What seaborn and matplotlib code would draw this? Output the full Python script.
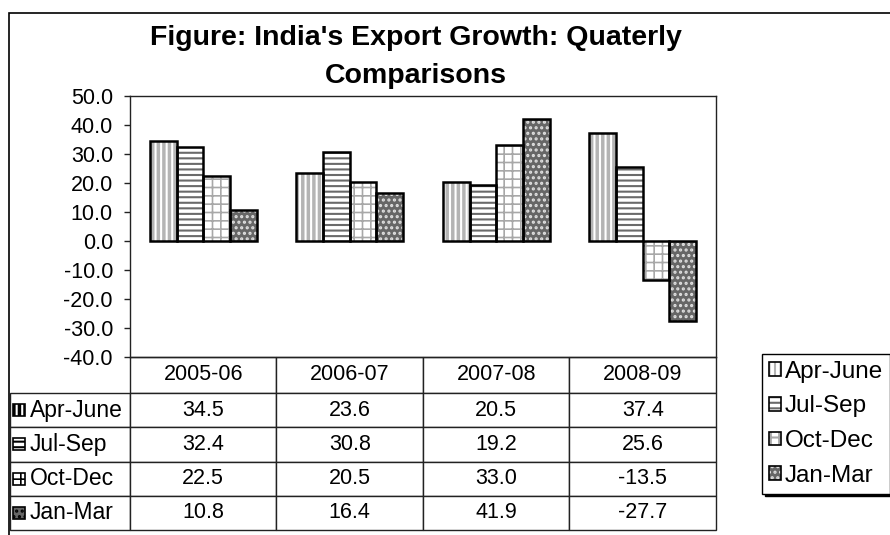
import numpy as np
import pandas as pd
import matplotlib
matplotlib.use('Agg')
import matplotlib.pyplot as plt
import matplotlib.patches as mpatches
from matplotlib.transforms import IdentityTransform
import seaborn as sns

# data
years = ['2005-06', '2006-07', '2007-08', '2008-09']
quarters = ['Apr-June', 'Jul-Sep', 'Oct-Dec', 'Jan-Mar']
apr_june = [34.5, 23.6, 20.5, 37.4]
jul_sep = [32.4, 30.8, 19.2, 25.6]
oct_dec = [22.5, 20.5, 33.0, -13.5]
jan_mar = [10.8, 16.4, 41.9, -27.7]
y_ticks = [-40, -30, -20, -10, 0, 10, 20, 30, 40, 50]

series = {'Apr-June': apr_june, 'Jul-Sep': jul_sep, 'Oct-Dec': oct_dec, 'Jan-Mar': jan_mar}

# styling of the four series
faces = ['white', 'white', 'white', '#666666']
hatches = ['|||', '---', '++', '...']
hatch_cols = ['#b4b4b4', '#6a6a6a', '#a8a8a8', '#e0e0e0']
hatch_lws = [2.5, 1.5, 1.2, 1.5]

sns.set_style('white')
plt.rcParams['font.family'] = ['Liberation Sans', 'DejaVu Sans']
plt.rcParams['text.color'] = 'black'
plt.rcParams['ytick.color'] = 'black'
plt.rcParams['hatch.linewidth'] = 1.5

df = pd.DataFrame([(y, q, v) for q in quarters for y, v in zip(years, series[q])],
                  columns=['Year', 'Quarter', 'Growth'])

W, H = 890, 535
fig = plt.figure(figsize=(W / 100, H / 100), dpi=100)
ax = fig.add_axes([130 / W, 1 - 357 / H, 586 / W, 261 / H])

sns.barplot(data=df, x='Year', y='Growth', hue='Quarter', order=years, hue_order=quarters,
            palette=faces, saturation=1, width=0.73, edgecolor='black', linewidth=1.8,
            legend=False, ax=ax)

HAS_HC = hasattr(mpatches.Patch, 'set_hatchcolor')
HAS_HLW = hasattr(mpatches.Patch, 'set_hatch_linewidth')


def style_hatch(p, h, hc, hlw):
    p.set_hatch(h)
    if HAS_HLW:
        p.set_hatch_linewidth(hlw)
    if HAS_HC:
        p.set_hatchcolor(hc)


handles = []
for cont, h, hc, hlw, fc in zip(ax.containers, hatches, hatch_cols, hatch_lws, faces):
    for bar in cont:
        style_hatch(bar, h, hc, hlw)
        if not HAS_HC:
            bar.set_edgecolor(hc)
            bar.set_linewidth(0)
            ax.add_patch(mpatches.Rectangle(bar.get_xy(), bar.get_width(), bar.get_height(),
                                            fill=False, ec='black', lw=1.8,
                                            zorder=bar.get_zorder() + 0.1))
    if HAS_HC:
        p = mpatches.Patch(facecolor=fc, edgecolor='black', lw=1.2)
        style_hatch(p, h, hc, hlw)
        handles.append(p)
    else:
        handles.append((mpatches.Patch(facecolor=fc, edgecolor=hc, hatch=h, lw=0),
                        mpatches.Patch(fill=False, edgecolor='black', lw=1.2)))

ax.set_xlim(-0.5, 3.5)
ax.set_ylim(-40, 50)
ax.set_yticks(y_ticks)
ax.set_yticklabels([f'{t:.1f}' for t in y_ticks])
ax.set_xticks([])
ax.set_xlabel('')
ax.set_ylabel('')
ax.tick_params(axis='y', left=True, length=4.3, width=1, pad=8, labelsize=15.5,
               color='#222222', labelcolor='black')
for s in ax.spines.values():
    s.set_visible(True)
    s.set_color('#222222')
    s.set_linewidth(1)

# data table under the plot
cell_text = [[q] + [f'{v:.1f}' for v in series[q]] for q in quarters]
tbl = ax.table(cellText=cell_text, colLabels=[''] + years, cellLoc='center',
               colWidths=[120] + [146.5] * 4,
               bbox=[-120 / 586, -173 / 261, 706 / 586, 173 / 261])
tbl.auto_set_font_size(False)
tbl.set_fontsize(15.5)
for (r, c), cell in tbl.get_celld().items():
    cell.set_linewidth(1)
    cell.set_edgecolor('#222222')
    cell.set_height(36 if r == 0 else 34.25)
    cell.get_text().set_color('black')
    if r == 0 and c == 0:
        cell.visible_edges = ''
    if c == 0 and r > 0:
        cell._loc = 'left'
        cell.PAD = 0.165
        cell.get_text().set_ha('left')
        cell.get_text().set_fontsize(16.5)

# title
fig.text(416 / W, 1 - 45 / H, "Figure: India's Export Growth: Quaterly",
         ha='center', va='baseline', fontsize=20.5, fontweight='bold', color='black')
fig.text(416 / W, 1 - 83 / H, "Comparisons",
         ha='center', va='baseline', fontsize=20.5, fontweight='bold', color='black')

# outer chart border
fig.add_artist(mpatches.Rectangle((9 / W, -0.05), 1.0, 1 - 13 / H + 0.05,
                                  transform=fig.transFigure, fill=False, ec='black', lw=1.2))

leg = fig.legend(handles, quarters, loc='upper left', bbox_to_anchor=(762 / W, 1 - 354 / H),
                 fontsize=17.5, handlelength=0.5, handleheight=0.5, handletextpad=0.15,
                 labelspacing=0.52, borderpad=0.28, borderaxespad=0, fancybox=False,
                 edgecolor='black', shadow={'color': 'black', 'alpha': 1})
leg.get_frame().set_linewidth(1)

# key icons inside the table's row labels
fig.canvas.draw()
renderer = fig.canvas.get_renderer()
for r, (h, hc, hlw, fc) in enumerate(zip(hatches, hatch_cols, hatch_lws, faces), start=1):
    bb = tbl[r, 0].get_window_extent(renderer)
    yc = (bb.y0 + bb.y1) / 2
    icon = mpatches.Rectangle((bb.x0 + 3, yc - 6), 12, 12, transform=IdentityTransform(),
                              facecolor=fc, edgecolor='black', lw=1.2)
    style_hatch(icon, h, hc, hlw)
    fig.add_artist(icon)

fig.savefig('out.png', dpi=100)
